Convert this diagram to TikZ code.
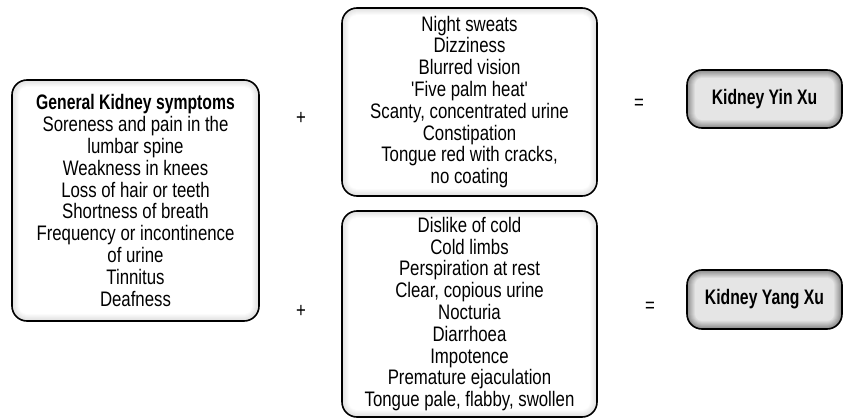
\documentclass[tikz,border=0pt]{standalone}
\usepackage{fontspec}
\setmainfont{Liberation Sans}[Ligatures=TeXOff,FakeStretch=0.80,BoldFeatures={FakeStretch=0.75}]
\newcommand\glowbox[8]{%
  \foreach \k in {0,...,#7}{%
    \pgfmathsetmacro\g{#5+(#6-#5)*\k/#7}%
    \pgfmathsetmacro\r{max(#8-\k,1)}%
    \fill[black!\g, rounded corners=\r pt] (#1-#3/2+\k, #2-#4/2+\k) rectangle (#1+#3/2-\k, #2+#4/2-\k);
  }}
\tikzset{
  txt/.style={font=\fontsize{21}{21.8}\selectfont},
  box/.style={txt, draw, line width=1.6pt, rounded corners=15pt, align=center, inner sep=0pt},
  sign/.style={txt, inner sep=0pt}
}
\begin{document}
\begin{tikzpicture}[x=1pt,y=-1pt]
\useasboundingbox (0,0) rectangle (843,420);
% shadings
\glowbox{135.5}{200.5}{247}{241}{12}{0}{7}{15}
\glowbox{469.5}{102}{255}{188}{12}{0}{7}{15}
\glowbox{469.5}{314}{255}{206}{12}{0}{7}{15}
\glowbox{764.5}{99}{155}{58}{45}{10}{8}{15}
\glowbox{764.5}{299.5}{155}{59}{45}{10}{8}{15}
% boxes
\node[box, minimum width=247pt, minimum height=241pt] (gen) at (135.5,200.5)
  {\textbf{General Kidney symptoms}\\Soreness and pain in the\\lumbar spine\\Weakness in knees\\Loss of hair or teeth\\Shortness of breath\\Frequency or incontinence\\of urine\\Tinnitus\\Deafness};
\node[box, minimum width=255pt, minimum height=188pt] (yin) at (469.5,102)
  {Night sweats\\Dizziness\\Blurred vision\\'Five palm heat'\\Scanty, concentrated urine\\Constipation\\Tongue red with cracks,\\no coating};
\node[box, minimum width=255pt, minimum height=206pt] (yang) at (469.5,314)
  {Dislike of cold\\Cold limbs\\Perspiration at rest\\Clear, copious urine\\Nocturia\\Diarrhoea\\Impotence\\Premature ejaculation\\Tongue pale, flabby, swollen};
\node[box, minimum width=155pt, minimum height=58pt] (yinxu) at (764.5,99) {\textbf{Kidney Yin Xu}};
\node[box, minimum width=155pt, minimum height=59pt] (yangxu) at (764.5,299.5) {\textbf{Kidney Yang Xu}};
% signs
\node[sign] (plus1) at (301,118) {+};
\node[sign] (plus2) at (301,311) {+};
\node[sign] (eq1) at (639,104) {=};
\node[sign] (eq2) at (650,307) {=};
\end{tikzpicture}
\end{document}
